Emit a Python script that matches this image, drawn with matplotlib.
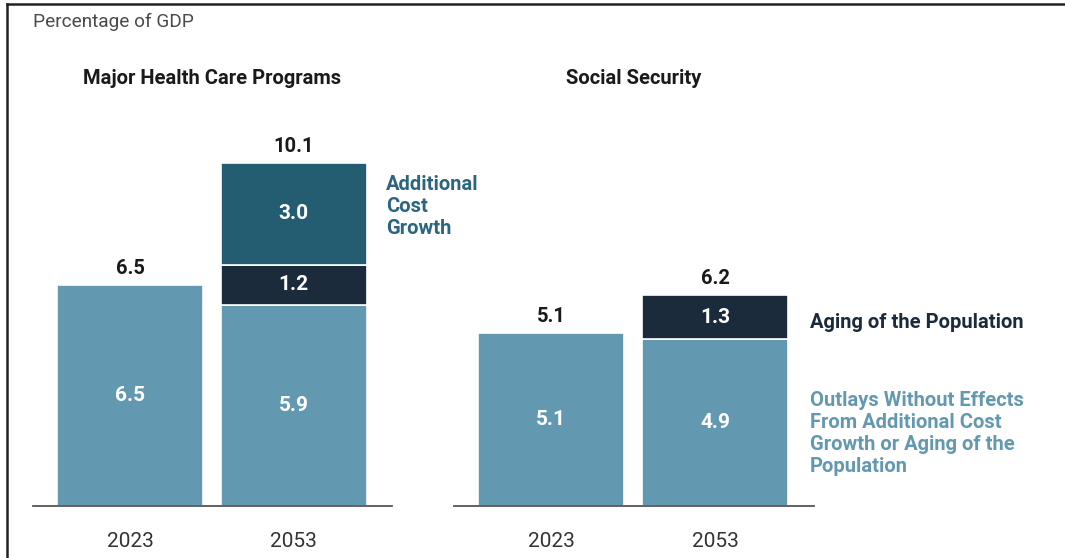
import matplotlib
matplotlib.use("Agg")
import matplotlib.pyplot as plt
from matplotlib.lines import Line2D

plt.rcParams['font.family'] = ['Roboto', 'DejaVu Sans']

years = ["2023", "2053"]

health_base = [6.5, 5.9]
health_aging = [0.0, 1.2]
health_cost = [0.0, 3.0]
health_totals = [6.5, 10.1]

ss_base = [5.1, 4.9]
ss_aging = [0.0, 1.3]
ss_totals = [5.1, 6.2]

panel_titles = ["Major Health Care Programs", "Social Security"]
unit_label = "Percentage of GDP"
label_cost = "Additional\nCost\nGrowth"
label_aging = "Aging of the Population"
label_base = "Outlays Without Effects\nFrom Additional Cost\nGrowth or Aging of the\nPopulation"

C_BASE = "#6299b0"
C_AGING = "#1c2b3b"
C_COST = "#245c72"
C_TEXT = "#1a1a1a"

W, H = 1065, 558
fig = plt.figure(figsize=(W / 100, H / 100), dpi=100)

bottom = (H - 506) / H
height = 406 / H
ymax = 406 / 34.0
xlim = (-0.593, 1.602)
bar_w = 0.893

ax1 = fig.add_axes([33 / W, bottom, 359 / W, height])
ax2 = fig.add_axes([454 / W, bottom, 360 / W, height])

x = [0, 1]


def draw_stack(ax, layers, totals):
    base = [0.0] * len(x)
    for vals, color in layers:
        for i, v in enumerate(vals):
            if v <= 0:
                continue
            ax.bar(x[i], v, bottom=base[i], width=bar_w, color=color,
                   edgecolor="white", linewidth=1.2)
            ax.text(x[i], base[i] + v / 2, f"{v:.1f}", ha="center", va="center",
                    color="white", fontsize=15, fontweight="bold")
            base[i] += v
    for i, t in enumerate(totals):
        ax.text(x[i], t + 0.2, f"{t:.1f}", ha="center", va="bottom",
                color=C_TEXT, fontsize=14.5, fontweight="bold")


draw_stack(ax1, [(health_base, C_BASE), (health_aging, C_AGING), (health_cost, C_COST)],
           health_totals)
draw_stack(ax2, [(ss_base, C_BASE), (ss_aging, C_AGING)], ss_totals)

for ax in (ax1, ax2):
    ax.set_xlim(*xlim)
    ax.set_ylim(0, ymax)
    for s in ("top", "right", "left"):
        ax.spines[s].set_visible(False)
    ax.spines["bottom"].set_color("#555555")
    ax.spines["bottom"].set_linewidth(1.3)
    ax.set_yticks([])
    ax.set_xticks(x)
    ax.set_xticklabels(years, fontsize=15, color="#333333")
    ax.tick_params(axis="x", length=0, pad=19)

# Panel titles
fig.text(212 / W, 1 - 78 / H, panel_titles[0], ha="center", va="center",
         fontsize=14.5, fontweight="bold", color=C_TEXT)
fig.text(634 / W, 1 - 78 / H, panel_titles[1], ha="center", va="center",
         fontsize=14.5, fontweight="bold", color=C_TEXT)
fig.text(33 / W, 1 - 22 / H, unit_label, ha="left", va="center",
         fontsize=13.7, color="#4a4a4a")

# Series labels
fig.text(386 / W, 1 - 207 / H, label_cost, ha="left", va="center",
         fontsize=14.5, fontweight="bold", color="#2b6581", linespacing=1.2)
fig.text(810 / W, 1 - 323 / H, label_aging, ha="left", va="center",
         fontsize=14.5, fontweight="bold", color=C_AGING)
fig.text(810 / W, 1 - 434 / H, label_base, ha="left", va="center",
         fontsize=14.5, fontweight="bold", color=C_BASE, linespacing=1.2)

# Frame lines along the top and left edges
fig.add_artist(Line2D([7 / W, 1], [1 - 3.5 / H, 1 - 3.5 / H], color="#222222",
                      linewidth=1.8, transform=fig.transFigure))
fig.add_artist(Line2D([7 / W, 7 / W], [0, 1 - 3.5 / H], color="#222222",
                      linewidth=1.8, transform=fig.transFigure))

fig.savefig("out.png", dpi=100, facecolor="white")
